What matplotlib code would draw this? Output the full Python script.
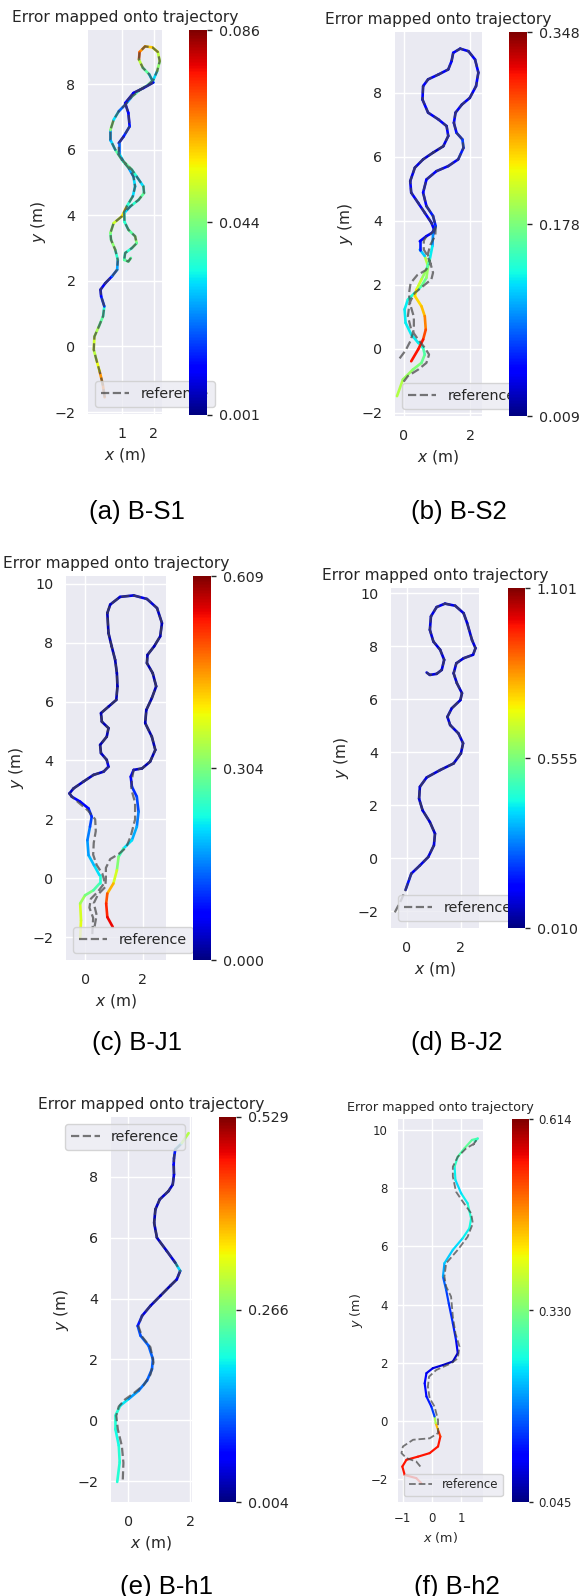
import numpy as np
import matplotlib
matplotlib.use("Agg")
import matplotlib.pyplot as plt
from matplotlib.collections import LineCollection
from matplotlib.colors import Normalize
from matplotlib.cm import ScalarMappable

W, H = 583, 1596
plt.rcParams.update({
    'font.family': ['DejaVu Sans'],
    'text.color': '.15', 'axes.labelcolor': '.15',
    'xtick.color': '.15', 'ytick.color': '.15',
    'mathtext.fontset': 'dejavusans',
})

TITLE = 'Error mapped onto trajectory'
XLABEL = '$x$ (m)'
YLABEL = '$y$ (m)'
REF_LABEL = 'reference'
captions = ['(a) B-S1', '(b) B-S2', '(c) B-J1', '(d) B-J2', '(e) B-h1', '(f) B-h2']

# ---------------- (a) B-S1 ----------------
a_x = [0.46, 0.40, 0.30, 0.20, 0.12, 0.14, 0.28, 0.41, 0.45, 0.35, 0.33, 0.48, 0.69, 0.85, 0.87, 0.79,
       0.66, 0.64, 0.74, 1.00, 1.15, 1.34, 1.41, 1.36, 1.21, 1.00, 0.79, 0.64, 0.64, 0.74, 0.90, 1.10,
       1.31, 1.57, 1.82, 1.98, 2.10, 2.18, 2.12, 1.95, 1.72, 1.55, 1.53, 1.65, 1.85, 1.98, 1.67, 1.36,
       1.10, 1.20, 1.24, 1.05, 0.90, 0.90, 1.05, 1.31, 1.46, 1.67, 1.69, 1.52, 1.26, 1.07, 1.08, 1.20,
       1.41, 1.46, 1.31, 1.10, 1.07, 1.20, 1.28]
a_y = [-1.55, -1.15, -0.75, -0.40, -0.10, 0.30, 0.61, 0.92, 1.22, 1.53, 1.73, 1.93, 2.14, 2.34, 2.64, 2.95,
       3.25, 3.46, 3.76, 3.97, 4.27, 4.58, 4.88, 5.18, 5.44, 5.69, 6.00, 6.30, 6.60, 6.91, 7.17, 7.37,
       7.62, 7.83, 7.98, 8.13, 8.40, 8.70, 8.98, 9.12, 9.15, 8.98, 8.75, 8.50, 8.30, 8.05, 7.88, 7.73,
       7.42, 7.12, 6.71, 6.40, 6.20, 5.90, 5.64, 5.39, 5.18, 4.88, 4.68, 4.47, 4.27, 4.07, 3.80, 3.56,
       3.36, 3.15, 3.00, 2.85, 2.64, 2.59, 2.70]
a_err = [0.068, 0.065, 0.055, 0.050, 0.052, 0.048, 0.040, 0.035, 0.015, 0.012, 0.010, 0.012, 0.020, 0.025,
         0.035, 0.045, 0.040, 0.045, 0.052, 0.058, 0.035, 0.030, 0.030, 0.025, 0.035, 0.040, 0.030, 0.025,
         0.045, 0.030, 0.020, 0.025, 0.040, 0.045, 0.040, 0.030, 0.045, 0.050, 0.055, 0.060, 0.065, 0.070,
         0.050, 0.040, 0.030, 0.010, 0.008, 0.010, 0.012, 0.012, 0.015, 0.012, 0.020, 0.030, 0.040, 0.035,
         0.030, 0.035, 0.040, 0.035, 0.030, 0.035, 0.035, 0.040, 0.045, 0.040, 0.035, 0.035, 0.040, 0.040,
         0.040]
a_ref_x = a_x
a_ref_y = a_y
a_cb = ['0.001', '0.044', '0.086']
a_range = (0.001, 0.086)

# ---------------- (b) B-S2 ----------------
b_x = [-0.21, -0.03, 0.27, 0.53, 0.63, 0.58, 0.43, 0.22, 0.05, 0.02, 0.12, 0.33, 0.53, 0.68, 0.73, 0.63,
       0.48, 0.48, 0.68, 0.86, 0.91, 0.83, 0.63, 0.43, 0.22, 0.19, 0.33, 0.58, 0.88, 1.19, 1.34, 1.29,
       1.04, 0.73, 0.56, 0.58, 0.73, 1.04, 1.34, 1.44, 1.49, 1.70, 1.95, 2.15, 2.25, 2.18, 1.99, 1.75,
       1.56, 1.51, 1.59, 1.77, 1.80, 1.64, 1.34, 0.98, 0.68, 0.58, 0.68, 0.88, 0.96, 0.88, 0.86, 0.78,
       0.68, 0.53, 0.38, 0.33, 0.53, 0.63, 0.66, 0.58, 0.43, 0.22]
b_y = [-1.48, -0.96, -0.65, -0.44, -0.18, 0.03, 0.19, 0.45, 0.81, 1.23, 1.54, 1.75, 1.96, 2.22, 2.58, 2.90,
       3.10, 3.36, 3.52, 3.63, 3.73, 3.94, 4.25, 4.56, 4.88, 5.24, 5.66, 5.92, 6.13, 6.33, 6.65, 6.96,
       7.17, 7.38, 7.79, 8.21, 8.42, 8.57, 8.73, 8.99, 9.25, 9.38, 9.30, 9.04, 8.63, 8.21, 7.84, 7.63,
       7.38, 7.06, 6.75, 6.54, 6.28, 5.92, 5.71, 5.55, 5.29, 4.88, 4.46, 4.15, 3.83, 3.57, 3.21, 2.79,
       2.48, 2.17, 1.85, 1.65, 1.33, 1.02, 0.60, 0.29, -0.02, -0.39]
b_err = [0.20, 0.19, 0.18, 0.17, 0.16, 0.14, 0.13, 0.13, 0.13, 0.13, 0.14, 0.15, 0.17, 0.19, 0.20, 0.12,
         0.06, 0.05, 0.05, 0.05, 0.05, 0.05, 0.05, 0.05, 0.045, 0.04, 0.04, 0.035, 0.03, 0.04, 0.05, 0.05,
         0.05, 0.05, 0.05, 0.05, 0.045, 0.045, 0.05, 0.05, 0.05, 0.045, 0.045, 0.05, 0.05, 0.05, 0.045, 0.045,
         0.05, 0.05, 0.06, 0.07, 0.06, 0.05, 0.05, 0.05, 0.05, 0.05, 0.06, 0.06, 0.07, 0.10, 0.13, 0.16,
         0.19, 0.21, 0.23, 0.24, 0.25, 0.27, 0.29, 0.31, 0.31, 0.30]
b_ref_head_x = [-0.13, 0.05, 0.20, 0.30, 0.30, 0.20, 0.15, 0.20, 0.40, 0.65, 0.80, 0.72, 0.60, 0.60]
b_ref_head_y = [-0.30, -0.05, 0.25, 0.60, 1.00, 1.35, 1.70, 2.05, 2.30, 2.45, 2.65, 2.90, 3.10, 3.38]
b_ref_tail_x = [0.95, 0.80, 0.72, 0.78, 0.88, 0.83, 0.58, 0.33, 0.17, 0.12, 0.22, 0.43, 0.63, 0.76, 0.68,
                0.43, 0.12, -0.03]
b_ref_tail_y = [3.55, 3.25, 2.95, 2.75, 2.38, 2.17, 1.96, 1.75, 1.44, 1.02, 0.60, 0.29, 0.03, -0.18, -0.44,
                -0.65, -0.85, -1.06]
b_ref_x = b_ref_head_x + b_x[18:61] + b_ref_tail_x
b_ref_y = b_ref_head_y + b_y[18:61] + b_ref_tail_y
b_cb = ['0.009', '0.178', '0.348']
b_range = (0.009, 0.348)

# ---------------- (c) B-J1 ----------------
c_x = [-0.17, -0.14, -0.17, 0.00, 0.29, 0.50, 0.50, 0.31, 0.12, 0.08, 0.17, 0.23, 0.12, -0.17, -0.46, -0.54,
       -0.40, -0.06, 0.29, 0.64, 0.81, 0.75, 0.55, 0.52, 0.75, 0.81, 0.58, 0.55, 0.81, 1.08, 1.12, 1.10,
       1.04, 0.92, 0.81, 0.77, 0.87, 1.21, 1.68, 2.14, 2.49, 2.66, 2.60, 2.39, 2.16, 2.14, 2.34, 2.46,
       2.31, 2.12, 2.08, 2.31, 2.43, 2.25, 1.97, 1.68, 1.58, 1.62, 1.79, 1.85, 1.79, 1.62, 1.33, 1.16,
       1.10, 0.98, 0.77, 0.73, 0.77, 0.96]
c_y = [-2.05, -1.43, -0.86, -0.58, -0.41, -0.18, 0.10, 0.44, 0.78, 1.29, 1.75, 2.09, 2.37, 2.60, 2.77, 2.88,
       3.05, 3.28, 3.51, 3.62, 3.79, 4.02, 4.25, 4.53, 4.81, 5.10, 5.32, 5.61, 5.83, 6.06, 6.52, 6.97,
       7.42, 7.88, 8.33, 9.01, 9.30, 9.56, 9.61, 9.49, 9.18, 8.67, 8.22, 7.88, 7.59, 7.31, 6.97, 6.52,
       6.12, 5.72, 5.27, 4.81, 4.36, 3.96, 3.73, 3.68, 3.45, 3.11, 2.77, 2.26, 1.75, 1.29, 1.01, 0.73,
       0.27, -0.18, -0.52, -0.86, -1.32, -1.66]
c_err = [0.38, 0.37, 0.33, 0.30, 0.27, 0.24, 0.21, 0.19, 0.17, 0.15, 0.12, 0.10, 0.08, 0.07, 0.05, 0.04,
         0.04, 0.04, 0.04, 0.05, 0.06, 0.04, 0.03, 0.03, 0.03, 0.03, 0.03, 0.03, 0.03, 0.03, 0.03, 0.03,
         0.03, 0.03, 0.03, 0.03, 0.04, 0.05, 0.06, 0.05, 0.04, 0.03, 0.03, 0.03, 0.03, 0.03, 0.03, 0.03,
         0.03, 0.03, 0.03, 0.03, 0.03, 0.03, 0.04, 0.06, 0.08, 0.10, 0.12, 0.15, 0.18, 0.21, 0.26, 0.31,
         0.37, 0.44, 0.50, 0.53, 0.55, 0.56]
c_ref_head_x = [0.25, 0.28, 0.15, 0.20, 0.45, 0.68, 0.60, 0.40, 0.28, 0.30, 0.37, 0.35, 0.10, -0.20, -0.46]
c_ref_head_y = [-1.90, -1.35, -1.00, -0.70, -0.45, -0.15, 0.15, 0.45, 0.80, 1.20, 1.60, 2.00, 2.30, 2.55, 2.77]
c_ref_tail_x = [1.62, 1.60, 1.73, 1.73, 1.58, 1.42, 1.16, 0.87, 0.72, 0.72, 0.70, 0.45, 0.30, 0.40, 0.31]
c_ref_tail_y = [3.36, 3.02, 2.57, 2.00, 1.43, 1.04, 0.82, 0.65, 0.35, 0.00, -0.30, -0.55, -0.85, -1.25, -1.75]
c_ref_x = c_ref_head_x + c_x[15:56] + c_ref_tail_x
c_ref_y = c_ref_head_y + c_y[15:56] + c_ref_tail_y
c_cb = ['0.000', '0.304', '0.609']
c_range = (0.000, 0.609)

# ---------------- (d) B-J2 ----------------
d_x = [-0.05, 0.16, 0.48, 0.79, 1.00, 1.04, 0.85, 0.58, 0.45, 0.48, 0.73, 1.23, 1.73, 2.00, 2.08, 1.91,
       1.60, 1.50, 1.66, 1.98, 2.04, 1.85, 1.73, 1.83, 2.10, 2.45, 2.54, 2.41, 2.23, 2.10, 1.79, 1.41,
       1.10, 0.89, 0.85, 0.98, 1.23, 1.38, 1.29, 1.10, 0.85, 0.73]
d_y = [-1.20, -0.59, -0.28, 0.04, 0.48, 0.92, 1.36, 1.80, 2.24, 2.69, 3.04, 3.32, 3.57, 3.95, 4.33, 4.70,
       5.02, 5.33, 5.65, 5.96, 6.22, 6.60, 6.97, 7.35, 7.54, 7.67, 7.92, 8.23, 8.87, 9.24, 9.52, 9.60,
       9.47, 9.12, 8.61, 8.17, 7.86, 7.48, 7.10, 6.95, 6.91, 7.00]
d_err = [0.16, 0.12, 0.11, 0.10, 0.10, 0.09, 0.09, 0.09, 0.09, 0.10, 0.10, 0.09, 0.09, 0.09, 0.10, 0.10,
         0.10, 0.10, 0.09, 0.09, 0.09, 0.09, 0.10, 0.10, 0.10, 0.10, 0.10, 0.10, 0.10, 0.10, 0.11, 0.12,
         0.11, 0.10, 0.10, 0.10, 0.10, 0.10, 0.10, 0.10, 0.10, 0.10]
d_ref_head_x = [-0.45, -0.22]
d_ref_head_y = [-2.05, -1.60]
d_ref_x = d_ref_head_x + d_x
d_ref_y = d_ref_head_y + d_y
d_cb = ['0.010', '0.555', '1.101']
d_range = (0.010, 1.101)

# ---------------- (e) B-h1 ----------------
e_x = [-0.35, -0.27, -0.30, -0.41, -0.41, -0.25, 0.02, 0.34, 0.61, 0.77, 0.80, 0.66, 0.40, 0.31, 0.45, 0.72,
       1.04, 1.36, 1.57, 1.68, 1.52, 1.25, 0.93, 0.84, 0.88, 1.02, 1.30, 1.44, 1.48, 1.47, 1.48, 1.52,
       1.73, 1.95]
e_y = [-2.03, -1.38, -0.83, -0.28, 0.15, 0.48, 0.70, 0.97, 1.30, 1.68, 2.01, 2.45, 2.78, 3.10, 3.43, 3.76,
       4.09, 4.42, 4.63, 4.91, 5.18, 5.56, 6.00, 6.49, 6.93, 7.26, 7.53, 7.75, 8.08, 8.40, 8.62, 8.90,
       9.11, 9.44]
e_err = [0.21, 0.21, 0.20, 0.21, 0.21, 0.19, 0.15, 0.13, 0.12, 0.12, 0.12, 0.12, 0.11, 0.08, 0.05, 0.04,
         0.03, 0.03, 0.05, 0.18, 0.05, 0.04, 0.03, 0.03, 0.035, 0.04, 0.04, 0.05, 0.05, 0.06, 0.08, 0.18,
         0.30, 0.36]
e_ref_head_x = [-0.17, -0.15, -0.20, -0.33, -0.38, -0.30, -0.10, 0.20, 0.50, 0.72, 0.82, 0.72, 0.45, 0.33]
e_ref_head_y = [-1.95, -1.40, -0.85, -0.30, 0.15, 0.45, 0.68, 0.90, 1.15, 1.50, 1.90, 2.40, 2.75, 3.10]
e_ref_tail_x = [1.70]
e_ref_tail_y = [9.07]
e_ref_x = e_ref_head_x + e_x[14:32] + e_ref_tail_x
e_ref_y = e_ref_head_y + e_y[14:32] + e_ref_tail_y
e_cb = ['0.004', '0.266', '0.529']
e_range = (0.004, 0.529)

# ---------------- (f) B-h2 ----------------
f_x = [-0.37, -0.54, -0.94, -1.02, -0.88, -0.48, -0.08, 0.21, 0.29, 0.21, 0.13, 0.09, -0.02, -0.19, -0.25,
       -0.19, 0.03, 0.38, 0.72, 0.89, 0.83, 0.72, 0.58, 0.49, 0.38, 0.43, 0.72, 1.06, 1.29, 1.35, 1.23,
       1.01, 0.81, 0.78, 0.89, 1.12, 1.38, 1.58, 1.47]
f_y = [-2.14, -1.97, -1.86, -1.57, -1.34, -1.23, -1.11, -0.88, -0.54, -0.31, -0.08, 0.15, 0.49, 0.84, 1.29,
       1.64, 1.81, 1.92, 2.04, 2.33, 2.78, 3.36, 4.04, 4.50, 4.96, 5.42, 5.88, 6.28, 6.62, 6.96, 7.48,
       7.82, 8.28, 8.74, 9.08, 9.37, 9.66, 9.71, 9.60]
f_err = [0.54, 0.55, 0.55, 0.55, 0.55, 0.55, 0.55, 0.55, 0.53, 0.45, 0.36, 0.15, 0.13, 0.12, 0.11, 0.10,
         0.09, 0.08, 0.08, 0.10, 0.13, 0.14, 0.15, 0.17, 0.21, 0.23, 0.24, 0.25, 0.26, 0.27, 0.25, 0.24,
         0.25, 0.28, 0.30, 0.31, 0.30, 0.28, 0.27]
f_ref_x = [-0.40, -0.54, -0.88, -1.05, -1.00, -0.65, -0.08, 0.21, 0.21, 0.09, -0.08, -0.14, -0.10, 0.15,
           0.66, 0.89, 0.95, 0.81, 0.72, 0.66, 0.49, 0.43, 0.49, 0.89, 1.23, 1.41, 1.35, 1.06, 0.83, 0.72,
           0.72, 0.89, 1.18, 1.47, 1.52, 1.41]
f_ref_y = [-1.57, -1.40, -1.28, -1.11, -0.88, -0.65, -0.60, -0.42, 0.03, 0.49, 0.78, 1.18, 1.52, 1.75,
           1.98, 2.15, 2.55, 3.01, 3.59, 4.27, 4.62, 4.96, 5.42, 5.88, 6.33, 6.79, 7.14, 7.54, 7.88, 8.40,
           8.74, 9.08, 9.37, 9.54, 9.63, 9.48]
f_cb = ['0.045', '0.330', '0.614']
f_range = (0.045, 0.614)

fig = plt.figure(figsize=(W / 100, H / 100), dpi=100)
fig.patch.set_facecolor('white')


def px_rect(l, t, r, b):
    return [l / W, 1 - b / H, (r - l) / W, (b - t) / H]


def panel(rect, cbrect, x, y, err, rx, ry, rng, cblabels, xlim, ylim, xticks, yticks,
          loc, caption, cap_xy, s=1.0, lw=1.9):
    ax = fig.add_axes(px_rect(*rect))
    ax.set_facecolor('#EAEAF2')
    for sp in ax.spines.values():
        sp.set_visible(False)
    ax.grid(True, color='white', lw=1.0)
    ax.set_axisbelow(True)
    norm = Normalize(rng[0], rng[1])
    pts = np.column_stack([x, y])
    segs = np.stack([pts[:-1], pts[1:]], axis=1)
    lc = LineCollection(segs, cmap='jet', norm=norm, linewidths=lw * s, capstyle='round',
                        joinstyle='round', zorder=2)
    lc.set_array(np.asarray(err[:-1], dtype=float))
    ax.add_collection(lc)
    ax.plot(rx, ry, '--', color='#454545', alpha=0.72, lw=1.6 * s, label=REF_LABEL, zorder=3,
            dash_joinstyle='round')
    ax.set_xlim(*xlim)
    ax.set_ylim(*ylim)
    ax.set_xticks(xticks)
    ax.set_yticks(yticks)
    ax.tick_params(length=0, pad=9 * s, labelsize=10.3 * s)
    ax.set_xlabel(XLABEL, fontsize=11.2 * s, labelpad=4 * s)
    ax.set_ylabel(YLABEL, fontsize=11.2 * s, labelpad=5 * s)
    ax.set_title(TITLE, fontsize=11.2 * s, color='.15')
    ax.legend(loc=loc, fontsize=10.3 * s, facecolor='#EAEAF2', edgecolor='0.8',
              framealpha=0.8, fancybox=True)
    cax = fig.add_axes(px_rect(*cbrect))
    cb = fig.colorbar(ScalarMappable(norm=norm, cmap='jet'), cax=cax,
                      ticks=[rng[0], (rng[0] + rng[1]) / 2, rng[1]])
    cb.set_ticklabels(cblabels)
    cb.outline.set_visible(False)
    cax.tick_params(length=3.5 * s, width=1.0, pad=5 * s, labelsize=10.3 * s, color='.15')
    fig.text(cap_xy[0] / W, 1 - cap_xy[1] / H, caption, ha='center', va='baseline',
             fontsize=18.5, family='Liberation Sans', color='black')


yt8 = [-2, 0, 2, 4, 6, 8]
yt10 = [-2, 0, 2, 4, 6, 8, 10]

panel((88, 30, 162, 414), (189, 30, 207, 415), a_x, a_y, a_err, a_ref_x, a_ref_y, a_range, a_cb,
      (-0.06, 2.25), (-2.06, 9.65), [1, 2], yt8, 'lower left', captions[0], (137, 519))
panel((395, 32, 482, 416), (509, 32, 527, 416), b_x, b_y, b_err, b_ref_x, b_ref_y, b_range, b_cb,
      (-0.27, 2.36), (-2.1, 9.9), [0, 2], yt8, 'lower left', captions[1], (459, 519))
panel((66, 576, 166, 960), (193, 576, 211, 960), c_x, c_y, c_err, c_ref_x, c_ref_y, c_range, c_cb,
      (-0.66, 2.8), (-2.78, 10.27), [0, 2], yt10, 'lower left', captions[2], (137, 1050))
panel((391, 588, 479, 928), (508, 588, 525, 928), d_x, d_y, d_err, d_ref_x, d_ref_y, d_range, d_cb,
      (-0.59, 2.67), (-2.64, 10.19), [0, 2], yt10, 'lower left', captions[3], (457, 1050))
panel((111, 1117, 192, 1502), (219, 1117, 236, 1502), e_x, e_y, e_err, e_ref_x, e_ref_y, e_range, e_cb,
      (-0.55, 2.06), (-2.69, 9.97), [0, 2], yt8, 'upper right', captions[4], (166, 1594))
panel((398, 1119, 483, 1502), (512, 1119, 529, 1502), f_x, f_y, f_err, f_ref_x, f_ref_y, f_range, f_cb,
      (-1.17, 1.76), (-2.79, 10.38), [-1, 0, 1], yt10, 'lower left', captions[5], (457, 1594), s=0.82)

fig.savefig('out.png', dpi=100, facecolor='white')
